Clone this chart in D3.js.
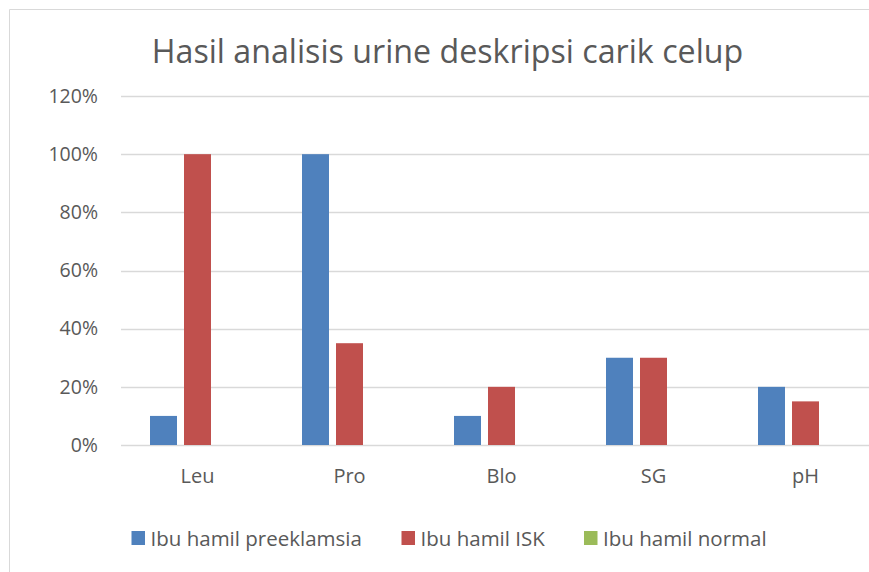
<!DOCTYPE html>
<html>
<head>
<meta charset="utf-8">
<script src="https://cdn.jsdelivr.net/npm/d3@7"></script>
<style>
  body { margin: 0; background: #fff; }
  svg { display: block; font-family: "Open Sans", sans-serif; }
</style>
</head>
<body>
<svg width="869" height="572"></svg>
<script>
var svg = d3.select("svg"),
    width = +svg.attr("width"),
    height = +svg.attr("height");

// data
var categories = ["Leu", "Pro", "Blo", "SG", "pH"];
var seriesNames = ["Ibu hamil preeklamsia", "Ibu hamil ISK", "Ibu hamil normal"];
var preeklamsia = [0.10, 1.00, 0.10, 0.30, 0.20];
var isk = [1.00, 0.35, 0.20, 0.30, 0.15];
var normal = [0, 0, 0, 0, 0];
var yTicks = [0, 0.2, 0.4, 0.6, 0.8, 1.0, 1.2];
var colors = ["#4F81BD", "#C0504D", "#9BBB59"];

var values = [preeklamsia, isk, normal];
var rows = categories.map(function(c, i) {
  return { cat: c, vals: seriesNames.map(function(s, j) { return { name: s, v: values[j][i], k: j }; }) };
});

// chart frame (cut off on the right and bottom)
svg.append("path")
  .attr("d", "M9.5," + height + "V9.5H" + width)
  .attr("fill", "none")
  .attr("stroke", "#D9D9D9");

svg.append("text")
  .attr("x", 447.5)
  .attr("y", 63)
  .attr("text-anchor", "middle")
  .attr("font-size", 32.2)
  .attr("fill", "#595959")
  .text("Hasil analisis urine deskripsi carik celup");

// plot runs past the right edge of the picture
var x0 = d3.scaleBand()
  .domain(categories)
  .range([121.5, 881.5]);

var x1 = d3.scaleBand()
  .domain(seriesNames)
  .range([0, 95])
  .paddingInner(0.206);

var y = d3.scaleLinear()
  .domain([0, 1.2])
  .range([445, 96]);

// gridlines
svg.append("g")
  .selectAll("line")
  .data(yTicks)
  .enter().append("line")
  .attr("x1", 121)
  .attr("x2", width)
  .attr("y1", function(d) { return Math.round(y(d)) + 0.5; })
  .attr("y2", function(d) { return Math.round(y(d)) + 0.5; })
  .attr("stroke", "#D9D9D9")
  .attr("stroke-width", 1.3);

// y axis labels
var yAxis = d3.axisLeft(y)
  .tickValues(yTicks)
  .tickFormat(d3.format(".0%"))
  .tickSize(0)
  .tickPadding(0);

var gy = svg.append("g")
  .attr("transform", "translate(98,0)")
  .call(yAxis);
gy.select(".domain").remove();
gy.selectAll("text")
  .attr("font-family", "Open Sans, sans-serif")
  .attr("font-size", 19.5)
  .attr("fill", "#595959");

// bars
var groups = svg.append("g")
  .selectAll("g")
  .data(rows)
  .enter().append("g")
  .attr("transform", function(d) { return "translate(" + (x0(d.cat) + (x0.bandwidth() - 95) / 2) + ",0)"; });

groups.selectAll("rect")
  .data(function(d) { return d.vals; })
  .enter().append("rect")
  .attr("x", function(d) { return x1(d.name); })
  .attr("width", x1.bandwidth())
  .attr("y", function(d) { return y(d.v); })
  .attr("height", function(d) { return y(0) - y(d.v); })
  .attr("fill", function(d) { return colors[d.k]; });

// x axis labels
var xAxis = d3.axisBottom(x0).tickSize(0).tickPadding(0);
var gx = svg.append("g")
  .attr("transform", "translate(0,466)")
  .call(xAxis);
gx.select(".domain").remove();
gx.selectAll("text")
  .attr("font-family", "Open Sans, sans-serif")
  .attr("font-size", 20)
  .attr("dy", "0.85em")
  .attr("fill", "#595959");

// legend
var legendX = [131.5, 401.5, 584];
var legend = svg.append("g")
  .selectAll("g")
  .data(seriesNames)
  .enter().append("g")
  .attr("transform", function(d, i) { return "translate(" + legendX[i] + ",531)"; });

legend.append("rect")
  .attr("width", 13.5)
  .attr("height", 14)
  .attr("fill", function(d, i) { return colors[i]; });

legend.append("text")
  .attr("x", 19)
  .attr("y", 14.5)
  .attr("font-size", 20.5)
  .attr("fill", "#595959")
  .text(function(d) { return d; });
</script>
</body>
</html>
